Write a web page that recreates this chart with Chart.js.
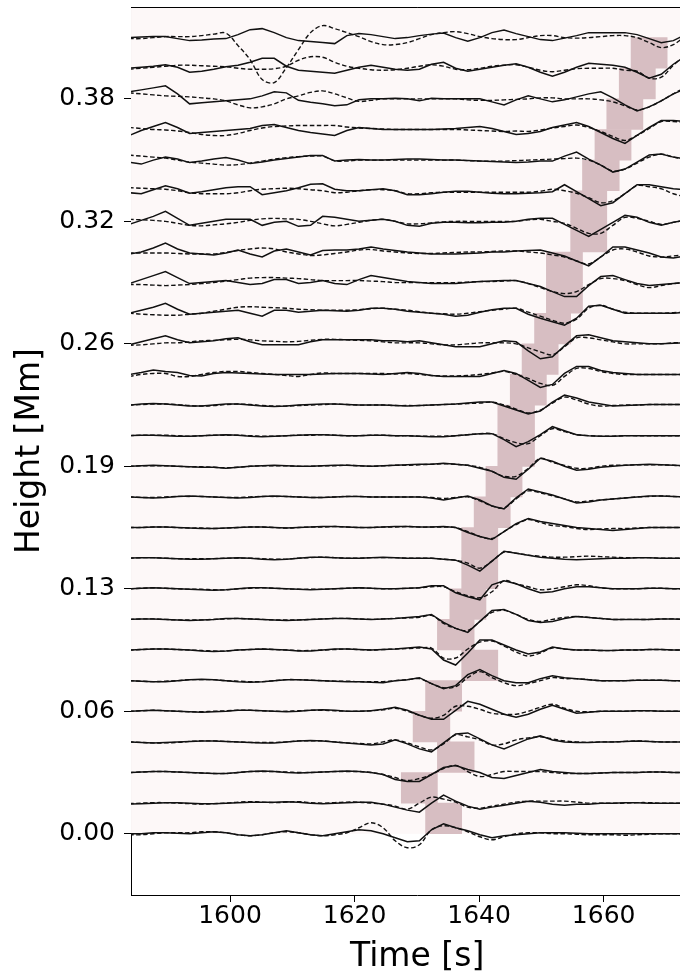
<!DOCTYPE html>
<html>
<head>
<meta charset="utf-8">
<title>Height-time diagram</title>
<script src="https://cdn.jsdelivr.net/npm/chart.js@4.4.1/dist/chart.umd.min.js"></script>
<style>
  html, body { margin: 0; padding: 0; background: #fff; overflow: hidden; }
  #wrap { position: relative; width: 680px; height: 976px; overflow: hidden; }
  #chart { position: absolute; left: 0; top: -24px; }
</style>
</head>
<body>
<div id="wrap"><canvas id="chart" width="720" height="1010"></canvas></div>
<script>
// sample times [s]
const times = [1583.80, 1585.74, 1587.68, 1589.63, 1591.57, 1593.51, 1595.45, 1597.39,
  1599.34, 1601.28, 1603.22, 1605.16, 1607.10, 1609.05, 1610.99, 1612.93,
  1614.87, 1616.81, 1618.76, 1620.70, 1622.64, 1624.58, 1626.52, 1628.47,
  1630.41, 1632.35, 1634.29, 1636.23, 1638.18, 1640.12, 1642.06, 1644.00,
  1645.94, 1647.89, 1649.83, 1651.77, 1653.71, 1655.65, 1657.60, 1659.54,
  1661.48, 1663.42, 1665.36, 1667.31, 1669.25, 1671.19, 1673.13, 1675.07];

// row heights [Mm]
const heights = [0, 0.016, 0.032, 0.048, 0.064, 0.08, 0.096, 0.112, 0.128, 0.144, 0.16, 0.176, 0.192,
  0.208, 0.224, 0.24, 0.256, 0.272, 0.288, 0.304, 0.32, 0.336, 0.352, 0.368, 0.384, 0.4, 0.416];

const yTickRows = [0, 4, 8, 12, 16, 20, 24];
const yTickLabels = ['0.00', '0.06', '0.13', '0.19', '0.26', '0.32', '0.38'];
const xTicks = [1600, 1620, 1640, 1660];

// highlighted window between row k and row k+1
const shadeStart = [1631.4, 1627.5, 1633.3, 1629.4, 1631.4, 1637.2, 1633.3, 1635.3, 1637.2, 1637.2, 1639.2, 1641.1, 1643.0,
  1643.0, 1645.0, 1646.9, 1648.9, 1650.8, 1650.8, 1654.7, 1654.7, 1656.6, 1658.6, 1660.5, 1662.5, 1664.4];
const shadeEnd = [1637.2, 1633.3, 1639.2, 1635.3, 1637.2, 1643.0, 1639.2, 1641.1, 1643.0, 1643.0, 1645.0, 1646.9, 1648.9,
  1648.9, 1650.8, 1652.7, 1654.7, 1656.6, 1656.6, 1660.5, 1660.5, 1662.5, 1664.4, 1666.3, 1668.3, 1670.2];

// signal units -> Mm offset on the plot
const signalScale = 0.016 / 30.65;

// observed signal per row (solid)
const observed = [
  [0,0,1,1,0.5,0,1,2, 1,-1,-2,-1,1,3,1,-1, -2,0,2,4,3,0,-4,-8, -7,4,10,6,3,-1,-4,-2, -1,0,1,1,1,0.5,0,0, 0,0,0,0,0,0,0,0],
  [-1,-0.5,0,0.5,0.5,0,-0.5,-0.5, 0,0.5,1,1,1,1.5,1,0, -0.5,0,0.5,1,1,-1,-4,-7, -9,0,8,2,-3,-6,-4,-2, 0,2,1,-1,-2,-1,-1,0, 0,0.5,0.5,0,0,0,0,0],
  [0,0.5,1,1,0.5,0,-0.5,-1, -1,0,1,1.5,1,0,-0.5,0, 0.5,1,1.5,1,0,-2,-7,-9, -9,-2,5,7,3,0,-5,-6, -3,0,3,1,0,-1,-1,-0.5, 0,0,0,0.5,0.5,0,0,0],
  [0,-0.5,-1,-0.5,0,0.5,1,1, 0.5,0,-0.5,-1,-1,0,1,1.5, 1,0,-1,-2,-3,-2,2,-2, -7,-10,-1,8,9,3,-3,-7, -2,3,6,2,0,-0.5,-0.5,0, 0,0.5,1,0.5,0,0,0,0],
  [0,0.5,1,0.5,0,-0.5,-1,-0.5, 0,1,1,0.5,0,-0.5,0,1, 1.5,1,0,0,0.5,2,4,1, -4,-8,-8,1,10,7,2,-3, -6,-3,2,6,2,-2,-1,0, 0,0,0.5,0.5,0,0,0,0],
  [0,-0.5,-1,-1,0,1,1.5,1, 0,-1,-1.5,-1,0,1,1,0.5, 0,-0.5,-1,-1,-1.5,-2,0,1, 3,-3,-8,-5,6,11,5,0, -2,-2,2,5,3,2,1,0, 0,0,0.5,0.5,0.5,0,0,0],
  [0,0.5,1,1,0.5,0,-1,-1.5, -1,0,0.5,1,0.5,0,-1,-1, 0,1,1,0.5,0,0.5,1,2, 3,1,-10,-15,-3,10,10,5, 0,-4,-2,3,1,0,0,-0.5, -0.5,0,0,0.5,0.5,0,0,0],
  [0,0.5,0.5,0,-0.5,-1,-0.5,0, 1,1,0.5,0,-0.5,-1,-0.5,0, 0.5,1,1,0.5,0,0.5,1,2, 3,5,-3,-9,-13,-2,9,10, 5,-1,-3,-2,1,3,2,1, 0,0,0,0,0.5,0.5,0,0],
  [0,0.5,1,0.5,0,-0.5,-1,-1.5, -1,0,1,1,0.5,0,-0.5,-1, -0.5,0,0.5,1,0.5,0,0,0.5, 1,3,3,-4,-8,-11,4,8, 5,0,-4,-3,0,2,2,1, 0,0,0,0.5,0.5,0,0,0],
  [0,0.5,0.5,0,-0.5,-1,-1,-0.5, 0,0.5,0,-1,-1.5,-1,0,1, 1,0.5,0,0,0.5,1,0.5,0, 0,0,-1,-2,-7,-13,-3,7, 5,3,1,0,-1,-1.5,-1,-0.5, 0,0,0.5,0.5,0,0,0,0],
  [0,0,0.5,0.5,0,-0.5,-1,-1, -0.5,0,0.5,0.5,0,-0.5,0,0.5, 1,1,0.5,0,0,0.5,1,1, 0.5,0.5,1,0,-5,-9,-12,-4, 4,9,6,4,2,0,-1,-2, -3,-2,-1,0,0,0,0,0],
  [0,-0.5,-1,-0.5,0.5,1,0.5,0, -0.5,-1,-0.5,0.5,1,0.5,0,-0.5, -0.5,0,0.5,0.5,0,0,0,0, 0,-1,-3,-1,1,-3,-9,-12, -1,8,5,2,-2,-6,-5,-3, -2,-1,0,1,1,0.5,0,0],
  [0,0.5,1,0.5,0,-0.5,-1,-1, -2,-1,0,0.5,1,0.5,0,0, 0.5,1,1,0.5,0,0.5,1,1.5, 2,2,3,2,1,-2,-5,-11, -13,-3,8,5,0,-4,-3,-1, 0,1,1.5,2,1.5,1,0.5,0.5],
  [0,0.5,0.5,0,-0.5,-0.5,0,0.5, 1,0.5,-0.5,-1,-0.5,0,0.5,1, 1,0.5,0,0,0.5,0.5,0,0, -0.5,-1,-1,0,1,2,2,-4, -11,-6,1,9,5,1,0,-0.5, -0.5,0,0,0,0,0,0,0],
  [0,1,1.5,1,0,-1,-1,0, 1,1,0,-1,-1.5,-1,0,0.5, 1,1,0.5,0,0,0,-0.5,-1, -0.5,0,0.5,1,2,3,3,-1, -5,-9,-6,3,10,7,3,1, -1,-0.5,0,0.5,0.5,0.5,0.5,0.5],
  [0,2,4.5,3,2,-1,-1.5,1, 2,1.5,1,0.5,0,0,0,0, 0.5,1,1,1,0.5,0,1,2, 1,-1,-2,-2,-2,-2,1,4, 1,-6,-13,-10,1,8,8,4, 2,1,0,0,0,0,0,0],
  [-1,2,5,8,4,1,2,3, 5,6,2,-1,-1,-1,-1,2, 4,4,4,4,4,3,3,2, 3,1,-1,-3,-3,-3,0,3, 2,-7,-15,-13,-2,8,9,6, 3,2,1,0,0,0.5,1,1],
  [0,3,6,10,4,-1,0,1, 2,3,0,-3,3,3,1,2, 3,2.5,2,3,5,5,4,2, 1,0,-1,-3,-2,1,3.5,5, 5,-1,-5,-8.5,-12,-5,7,8, 4,0,0,0,0,0,1,1],
  [-1,3,7,11,5,-1,0,1, 2,0,-2,-1,3,3,-1,0, 2,-1,-2,3,7,5,3,1, 0,-1,-1,-1,0,1,1.5,2, 2,-1,-4,-9,-14,-14,-3,6, 7,3,-1,-3,-2,-1,0,0],
  [-2,0,4,9,3,-1,-2,-3, -1,2,-2,-5,1,3,0,-3, 1.5,2,2,3,5,3,1.5,0, -1,-2,-2,-2,-1.5,-1,0,0, 1,1.5,2,-1,-4,-9,-14,-5, 5,5,2,-1,-5,-6,-4,-3],
  [-3,1,5,10,3,-4,-2,0, 2,2,2,-4,-1,0,-5,-4, 5,4,2,0,1,2,0,-4, -5,-2,-1,-1,-1.5,-1.5,-1,-1, 0,2,3,3,-3,-9,-15,-8, -1,6,4,-1,-4,-1,1,1],
  [-2,-3,1,5,2,-2.5,-1,1, 3,4,4,-4,-2,0,3,6.5, 7,1.5,0,0,1,2,0,-4, -4,-3,-1.5,-0.5,-0.5,-1.5,-2.5,-3, -3,-2.5,-2,-1,6,-1,-8,-15, -12,-3,6,6,4,2,1,0],
  [-2,-4,0,3,1,-2.5,-1,1, 2.5,0,-3.5,-2,0,1.5,3,4.5, 4.5,-1,0,0.5,0,0,0.5,1, 1,0.5,0,0,-0.5,-1,-1.5,-2, -2.5,-2,-1,-1,4,8,1,-5, -12,-9,-2,5,6,3,1,0],
  [-6,-1,3,7,2,-4,-3,-2, -1,0,1,4,5,2,-1,-3, -4.5,-6,-1,2,1,0,0,0, 0,0,0.5,1,2,3,1,-2, -5,-4,-2,2,4.5,7,3,-3, -9,-14,-6,2,9,9,8,7],
  [7,9,11,13,5,-5,-4,-3, -2,-1,0,3,7,6,-1.5,-3.5, -5,-7,-6,-1,0,0,0.5,0, -2,0.5,0,0,0,0,-3,-6, -1,3,0,-3,-1,2,5,7, 1,-6,-12,-8,-2,5,10,12],
  [0,1,2,3.5,1,-4,-3,-1, 1.5,3,6,10,10,2,-2,-3, -4,-5,-2,1,3,1,-1,-2, -1,4,6,0,-3,-1,1,3, 4.5,1,-4,-8,-4,1,5,4, 3,1,-4,-10,-6,4,12,15],
  [0,0.5,1,1,-1,-3,-2.5,-1.5, -1,3,8,9,5,0,-3,-4, -5,-6,2,4,3,1,-1,0, 2,3.5,4.5,0,-3.5,0,5,7.5, 4,1,-2,-3,-0.5,2,5,5, 5,5,3,-1,-5,-3,3,6]
];

// modelled signal per row (dashed)
const modelled = [
  [-1,-1,0,1,1,1,2,2, 1,-1,-2,-1,1,2,1,-1, -2,-1,1,6,11,6,-7,-14, -11,4,8,6,2,-3,-6,-3, 0,1,1,0,0,-0.5,-1,-1, -1,-1.5,-1,-0.5,0,0,-0.5,-1],
  [-0.5,0,0.5,0.5,0,-0.5,-1,-0.5, 0,1,1.5,1,0.5,1,1.5,0.5, 0,0.5,1,1,0,-1,-3,-6, 0,6,4,1,-4,-5,-3,-1, 1,2,2,2,2,1,0,0, 0,0,0.5,0.5,0,0,0,0],
  [0,0.5,1,1,0.5,0,-0.5,-1, -1,0,1,1,1,0.5,0,0, 0.5,1,1,1,0,-2,-5,-8, -6,-2,4,7,1,-4,-2,1, 1,1,1,0,-1,-1,-1,-0.5, 0,0,0,0.5,0.5,0,0,0],
  [0,-0.5,-1,-1,-0.5,0.5,1,1, 0.5,0,-0.5,-0.5,-0.5,0,1,1, 1,0,-1,-1.5,-2,0,2,-1, -5,-8,-2,7,5,2,-3,-2, 2,4,5,3,1,0,-0.5,0, 0,0.5,1,0.5,0,0,0,0],
  [0,0.5,1,0.5,0,-0.5,-0.5,0, 0.5,1,1,0.5,0,0,0.5,1, 1,0.5,0,0,0.5,1.5,3,0, -4,-7,-4,5,5,2,-2,-3, -3,0,4,7,3,0,-0.5,0, 0,0,0.5,0.5,0,0,0,0],
  [0,-0.5,-1,-0.5,0,1,1,1, 0,-0.5,-1,-1,0,1,1,0.5, 0,-0.5,-0.5,-1,-1,-1,0,1, 2,-3,-7,-6,3,9,3,-2, -5,-3,0,3,2,2,1,0, 0,0,0.5,0.5,0.5,0,0,0],
  [0,0.5,1,1,0.5,0,-0.5,-1, -1,0,0.5,1,0.5,0,-0.5,-0.5, 0,0.5,1,0.5,0,0.5,1,1.5, 2,2,-8,-8,1,8,9,4, -2,-6,-3,2,1,0,0,-0.5, -0.5,0,0,0.5,0.5,0,0,0],
  [0,0.5,0.5,0,-0.5,-0.5,-0.5,0, 0.5,1,0.5,0,-0.5,-0.5,-0.5,0, 0.5,1,1,0.5,0,0.5,1,1.5, 2,4,-4,-9,-11,-2,7,9, 5,0,-2,0,2,3,2,1, 0,0,0,0,0.5,0.5,0,0],
  [0,0.5,1,0.5,0,-0.5,-0.5,-1, -1,0,0.5,1,0.5,0,-0.5,-0.5, -0.5,0,0.5,1,0.5,0,0,0.5, 1,2,2,-3,-7,-9,-3,8, 5,2,-1,0,2,4,3,1, 0,0,0,0.5,0.5,0,0,0],
  [0,0.5,0.5,0,-0.5,-0.5,-0.5,-0.5, 0,0,0,-0.5,-1,-1,0,0.5, 1,0.5,0,0,0.5,0.5,0.5,0, 0,0,-1,-2,-5,-10,-3,6, 5,3,2,1,1,1.5,2,1.5, 1,0.5,0.5,0.5,0,0,0,0],
  [0,0,0.5,0.5,0,-0.5,-0.5,-1, -0.5,0,0.5,0.5,0,-0.5,0,0.5, 0.5,1,0.5,0,0,0.5,0.5,1, 0.5,0.5,0.5,0,-4,-9,-11,-4, 3,8,5,2,1,-1,-2,-1.5, -1,-1,-0.5,0,0,0,0,0],
  [0,-0.5,-0.5,0,0.5,0.5,0.5,0, -0.5,-0.5,0,0.5,0.5,0.5,0,-0.5, -0.5,0,0.5,0.5,0,0,0,0, 0,-0.5,-1.5,-0.5,0,-4,-9,-11, -2,6,4,1,-2,-5,-4,-3, -2,-1,0,0.5,1,0.5,0,0],
  [0,0.5,0.5,0.5,0,-0.5,-0.5,-1, -1.5,-1,0,0.5,0.5,0.5,0,0, 0.5,0.5,1,0.5,0,0.5,1,1, 1.5,2,2.5,2,1,-1,-5,-10, -10,-2,8,4,1,-2,-2,0, 1,1,1.5,1.5,1.5,1,0.5,0.5],
  [0,0.5,0.5,0.5,0,-0.5,0,0.5, 0.5,0.5,0,-0.5,-0.5,0,0.5,0.5, 1,0.5,0,0,0.5,0.5,0,0, -0.5,-0.5,-0.5,0,1,2,2,-3, -7,-8,0,7,4,1,0,-0.5, -0.5,0,0,0,0,0,0,0],
  [0,0.5,1,1,0.5,-0.5,-1,-0.5, 0.5,1,0.5,-0.5,-1,-1,-0.5,0, 0.5,1,0.5,0,0,0,-0.5,-0.5, -0.5,0,0.5,1,1.5,2,3,0, -4,-8,-5,2,8,5,1,-1, -0.5,0,0,0.5,0.5,0.5,0.5,0.5],
  [-2,0,1,1,-2,-2,0,2, 3,3,2,1,0,-1,-2,0, 1.5,1,1,1,1,1,0.5,1, 0,-1,-1.5,-1.5,-1,0,1.5,3, 0,-4,-9,-11,-2,6,6,3, 1,0,0,0,0,0,0,0],
  [-1.5,-1,0,1,1,2,3,3.5, 4,4.5,4,3,2.5,2,2.5,3.5, 4.5,4.5,4,3.5,3,2,1,1, 1,0,-1,-1,0,1,1,1, 0,-4,-8,-11,-3,6,6,4, 2,0,0,0,0,1,1,1],
  [0,-1,-1.5,-2,-2,-1,0,2, 4,6,6.5,6,5.5,5,4,3.5, 3,3,3,3.5,4.5,5,4,3, 1.5,0,-0.5,-1,0,1.5,3,4, 5,1,-3,-7,-10,-6,5,8, 4,1,0,0,0,0.5,1,1],
  [-2,-2,-2.5,-3,-2.5,-2,-1,0, 1.5,3,4.5,5,5,4.5,4,3, 2,2,2,2,1.5,1,0,0, 0,0,0,0,0.5,1,1,1.5, 2,-1,-5,-9,-11,-9,-2,4, 4,2,-2,-5,-3,-1,0,0],
  [-1,-1,-1,-1,-1.5,-2,-2,-2, -0.5,1.5,3,4,3,0,-2,-3.5, -3,-1.5,0,2,2.5,1,0,-1, -1.5,-1.5,-1,-0.5,0,0,0.5,1, 1,0,-1,-3,-5,-9,-12,-5, 2,3,0,-4,-5,-4,-3,-2],
  [2,1.5,1,0,-2,-4,-4.5,-3.5, -2.5,-1,1,2.5,3,2.5,2,0, -2.5,-4.5,-3,-1,1,2,0,-2.5, -2.5,-1.5,-0.5,0,0,0,0,0, 0,1.5,2,0,-2,-7,-12,-12, -4,4,3,0,-3,-1,1,1],
  [3,2.5,2,1.5,0,-2,-3,-3, -3,-2,0,1.5,2,2.5,2,1, 0,-2,-1.5,0,1,1,0,-3, -3,-2,-1.5,-1.5,-1.5,-1.5,-1.5,-1.5, -1.5,-1.5,-0.5,1.5,0,-2.5,-7,-12, -10,-3,5,4,2,-3,-6,-7],
  [5,4,3,2,0,-2,-3,-4, -5,-4.5,-3,-1,1,2.5,3.5,4, 4,-0.5,-1,0,0,0,0,0, 0,0,0,0,-0.5,-1,-1,-1, -0.5,0,0.5,1,1.5,2,0,-5, -11,-9,-3,3,6,3,1,0],
  [2,1,0,-0.5,-1.5,-3,-5,-6, -6,-4,-1,1.5,3,3.5,4,4, 4,4,2.5,1.5,1,0.5,0,0, 0,0,0,0,-0.5,-1,-1.5,-2, -1.5,-2,-0.5,1.5,3,4.5,2,-2, -7,-11,-6,1,8,8,7,6],
  [6,5,4,3,2.5,2,1,0, -2,-6,-9,-8,-5,0,3,6.5, 8,5,1,-2.5,-1.5,0,0,0, 0,0,0,0,-1,-1.5,-1.5,-1, -0.5,0,1,1,0,0,0,-1, -3,-7,-11,-8,-2,5,11,13],
  [-1,0,1,2,3,3,2.5,2, 1.5,0,-1,-1,-0.5,2,8,11.5, 11,6,2,0,-1.5,-2,-1.5,0, 2,3.5,2,-1,-1.5,0,2,3, 3.5,1,-2,-3.5,-2,-0.5,0,0, 0,-2,-3,-10,-9,3,12,15],
  [-1,-1,0,1,1,1,2,3.5, 4.5,-8,-22,-42,-45,-30,-12,5, 12,9,5,1,-4,-7,-7,-5, -1,3,5,6,4,1,-1,-2, -2,0,2,2,0,-0.5,0,1, 2,2,0,-5,-10,-7,1,5]
];

const datasets = [];

observed.forEach((row, i) => {
  datasets.push({
    type: 'line',
    data: row.map((v, n) => ({ x: times[n], y: heights[i] + v * signalScale })),
    borderColor: '#111',
    borderWidth: 1.5,
    pointRadius: 0,
    tension: 0,
    clip: 0,
    order: 1
  });
});

modelled.forEach((row, i) => {
  datasets.push({
    type: 'line',
    data: row.map((v, n) => ({ x: times[n], y: heights[i] + v * signalScale })),
    borderColor: '#111',
    borderWidth: 1.4,
    borderDash: [4.5, 2.5],
    pointRadius: 0,
    tension: 0.35,
    clip: 0,
    order: 1
  });
});

datasets.push({
  type: 'bar',
  indexAxis: 'y',
  grouped: false,
  data: shadeStart.map((s, k) => ({ y: (heights[k] + heights[k + 1]) / 2, x: [s, shadeEnd[k]] })),
  backgroundColor: 'rgb(215,190,194)',
  borderWidth: 0,
  barPercentage: 1,
  categoryPercentage: 1,
  clip: 0,
  order: 2
});

// pale background over the rows + top/right spines
const framePlugin = {
  id: 'framePlugin',
  beforeDatasetsDraw(chart) {
    const { ctx, chartArea: a, scales: { y } } = chart;
    const y0 = y.getPixelForValue(heights[0]);
    ctx.save();
    ctx.fillStyle = '#fdf8f8';
    ctx.fillRect(a.left, a.top, a.right - a.left, y0 - a.top);
    ctx.restore();
  },
  afterDraw(chart) {
    const { ctx, chartArea: a } = chart;
    ctx.save();
    ctx.strokeStyle = '#000';
    ctx.lineWidth = 1;
    ctx.beginPath();
    ctx.moveTo(a.left, a.top + 0.5);
    ctx.lineTo(a.right, a.top + 0.5);
    ctx.moveTo(a.right - 0.5, a.top);
    ctx.lineTo(a.right - 0.5, a.bottom);
    ctx.stroke();
    ctx.restore();
  }
};

const tickFont = { family: 'DejaVu Sans', size: 25, lineHeight: 1 };
const titleFont = { family: 'DejaVu Sans', size: 33, lineHeight: 1 };

new Chart(document.getElementById('chart'), {
  type: 'line',
  data: { datasets: datasets },
  options: {
    responsive: false,
    devicePixelRatio: 1,
    animation: false,
    events: [],
    layout: { padding: { left: 4, top: 31, right: 16.7, bottom: 12 } },
    plugins: { legend: { display: false }, tooltip: { enabled: false } },
    scales: {
      x: {
        type: 'linear',
        min: 1584.1,
        max: 1676,
        offset: false,
        afterBuildTicks: axis => { axis.ticks = xTicks.map(v => ({ value: v })); },
        grid: { display: true, offset: false, drawOnChartArea: false, drawTicks: true, tickLength: 7, color: '#000' },
        border: { display: true, color: '#000', width: 1 },
        ticks: { color: '#000', padding: 2, font: tickFont, maxRotation: 0, callback: v => String(v) },
        title: { display: true, text: 'Time [s]', color: '#000', font: titleFont, padding: { top: 10, bottom: 0 } }
      },
      y: {
        type: 'linear',
        min: -0.032,
        max: 0.432,
        offset: false,
        afterBuildTicks: axis => { axis.ticks = yTickRows.map(r => ({ value: heights[r] })); },
        grid: { display: true, offset: false, drawOnChartArea: false, drawTicks: true, tickLength: 7, color: '#000' },
        border: { display: true, color: '#000', width: 1 },
        ticks: { color: '#000', padding: 9, font: tickFont, callback: (v, i) => yTickLabels[i] },
        title: { display: true, text: 'Height [Mm]', color: '#000', font: titleFont, padding: { top: 9.5, bottom: 3.85 } }
      }
    }
  },
  plugins: [framePlugin]
});
</script>
</body>
</html>
